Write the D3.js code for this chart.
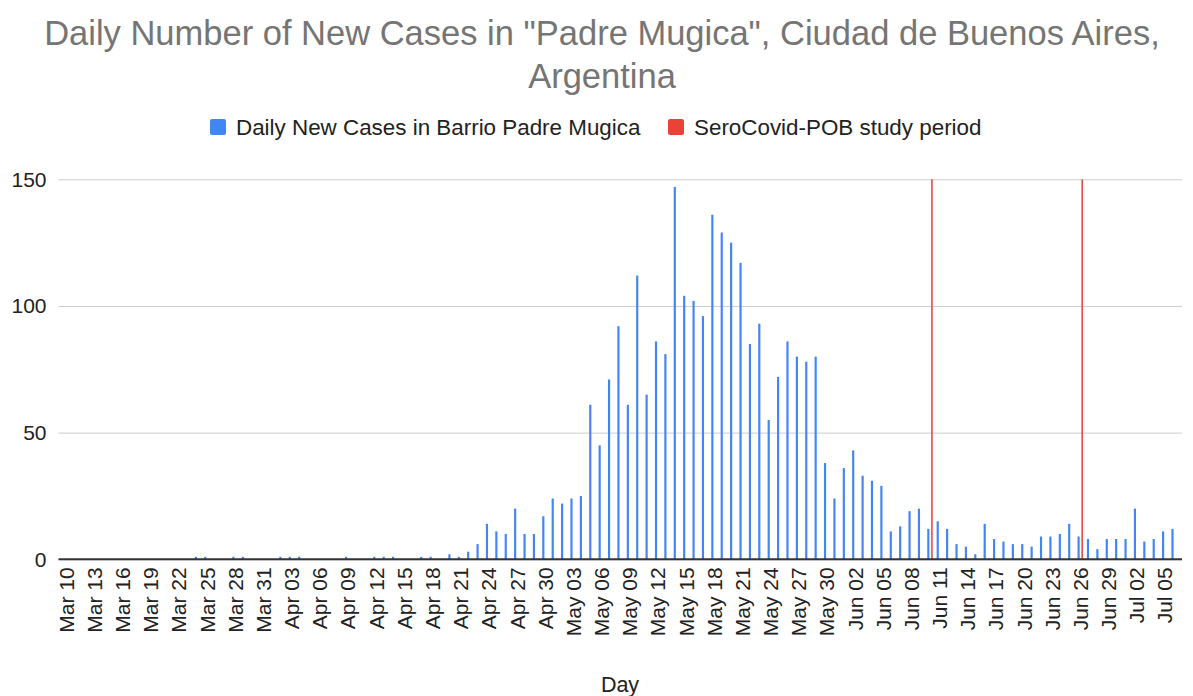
<!DOCTYPE html>
<html>
<head>
<meta charset="utf-8">
<script src="https://cdn.jsdelivr.net/npm/d3@7"></script>
<style>
  body { margin: 0; background: #fff; }
  svg { display: block; font-family: "Liberation Sans", Arial, sans-serif; }
</style>
</head>
<body>
<svg id="chart" width="1193" height="696"></svg>
<script>
// ---- data ----
const startDay = "2020-03-10";
const endDay = "2020-07-06";
const dailyCases = [
  0,0,0,0,0,0,0,0,0,0,0,0,0,0,
  1,1,0,0,1,1,0,0,0,1,1,1,0,0,0,0,1,0,0,1,1,1,0,0,1,1,0,2,1,3,6,
  14,11,10,20,10,10,17,24,22,24,25,61,45,71,92,61,112,65,86,81,147,104,102,96,136,129,125,117,85,93,55,72,86,80,78,80,38,24,36,43,33,31,29,
  11,13,19,20,12,15,12,6,5,2,14,8,7,6,6,5,9,9,10,14,9,8,4,8,8,8,20,7,8,11,12
];
const studyDates = ["Jun 10", "Jun 26"];
const studyValues = [150, 150];
const yTicks = [0, 50, 100, 150];
const seriesNames = ["Daily New Cases in Barrio Padre Mugica", "SeroCovid-POB study period"];
const titleLines = ["Daily Number of New Cases in \"Padre Mugica\", Ciudad de Buenos Aires,", "Argentina"];
const xTitle = "Day";

// ---- build ----
const parse = d3.timeParse("%Y-%m-%d");
const fmt = d3.timeFormat("%b %d");
const days = d3.timeDay.range(parse(startDay), d3.timeDay.offset(parse(endDay), 1)).map(fmt);
const caseRows = days.map((d, i) => ({ day: d, value: dailyCases[i] }));
const studyRows = studyDates.map((d, i) => ({ day: d, value: studyValues[i] }));
const tickLabels = days.filter((d, i) => i % 3 === 0);

const colors = { cases: "#4285f4", study: "#ea4335" };
const svg = d3.select("#chart");
const plotLeft = 61.5, plotRight = 1179, plotTop = 179.3, plotBottom = 559.3;

const x = d3.scaleBand().domain(days).range([plotLeft, plotRight]).padding(0);
const x1 = d3.scaleBand().domain(["cases", "study"]).range([0, x.bandwidth()]).paddingInner(0.4).paddingOuter(0.5);
const y = d3.scaleLinear().domain([0, 150]).range([plotBottom, plotTop]);

// title
svg.append("g").selectAll("text").data(titleLines).join("text")
  .attr("x", 602).attr("y", (d, i) => 45 + i * 43)
  .attr("text-anchor", "middle").attr("fill", "#757575")
  .style("font-size", "34.5px").text(d => d);

// legend
const legend = svg.append("g");
const legendItems = [
  { name: seriesNames[0], color: colors.cases, x: 210 },
  { name: seriesNames[1], color: colors.study, x: 668 }
];
legendItems.forEach(it => {
  legend.append("rect").attr("x", it.x).attr("y", 119).attr("width", 16).attr("height", 16).attr("rx", 2).attr("fill", it.color);
  legend.append("text").attr("x", it.x + 26).attr("y", 135).attr("fill", "#222").style("font-size", "22.4px").text(it.name);
});

// y grid + labels
const yAxis = svg.append("g").attr("transform", `translate(${plotLeft - 3},0)`)
  .call(d3.axisLeft(y).tickValues(yTicks).tickSize(-(1182 - plotLeft + 3)).tickPadding(12));
yAxis.select(".domain").remove();
yAxis.selectAll(".tick line").attr("stroke", "#cccccc").attr("stroke-width", 1);
yAxis.selectAll(".tick text").attr("fill", "#222").style("font-size", "21px").style("font-family", "Liberation Sans, Arial, sans-serif");

// bars
svg.append("g").selectAll("rect").data(caseRows.filter(d => d.value > 0)).join("rect")
  .attr("x", d => x(d.day) + x1("cases"))
  .attr("width", x1.bandwidth())
  .attr("y", d => y(d.value))
  .attr("height", d => y(0) - y(d.value))
  .attr("fill", colors.cases);

svg.append("g").selectAll("rect").data(studyRows).join("rect")
  .attr("x", d => x(d.day) + x1("study") + 0.3)
  .attr("width", x1.bandwidth() * 0.7)
  .attr("y", d => y(d.value))
  .attr("height", d => y(0) - y(d.value))
  .attr("fill", "#e0453a");

// baseline
svg.append("line").attr("x1", plotLeft - 3).attr("x2", 1182).attr("y1", y(0)).attr("y2", y(0))
  .attr("stroke", "#333").attr("stroke-width", 2);

// x axis labels
const xAxis = svg.append("g").attr("transform", `translate(0,${plotBottom})`)
  .call(d3.axisBottom(x).tickValues(tickLabels).tickSize(0).tickPadding(0));
xAxis.select(".domain").remove();
xAxis.selectAll(".tick text")
  .attr("transform", "rotate(-90)")
  .attr("x", -8).attr("y", 0).attr("dy", "0.36em")
  .attr("text-anchor", "end")
  .attr("fill", "#222").style("font-size", "21px").style("font-family", "Liberation Sans, Arial, sans-serif");

// x title
svg.append("text").attr("x", 620).attr("y", 692).attr("text-anchor", "middle")
  .attr("fill", "#222").style("font-size", "21.5px").text(xTitle);
</script>
</body>
</html>
